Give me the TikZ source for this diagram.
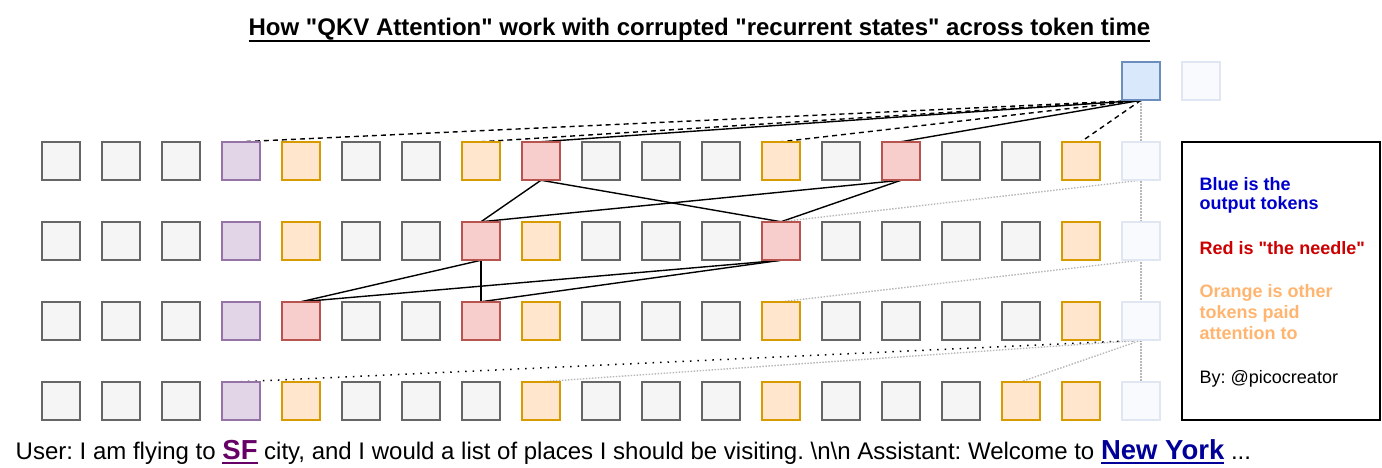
\documentclass[tikz,border=0pt]{standalone}
\usepackage{fontspec}
\setmainfont{Liberation Sans}[Ligatures=TeXOff]
\frenchspacing
\pgfdeclarelayer{bg}
\pgfsetlayers{bg,main}
\definecolor{gfill}{HTML}{F5F5F5}\definecolor{gline}{HTML}{666666}
\definecolor{pfill}{HTML}{E1D5E7}\definecolor{pline}{HTML}{9673A6}
\definecolor{ofill}{HTML}{FFE6CC}\definecolor{oline}{HTML}{D79B00}
\definecolor{rfill}{HTML}{F8CECC}\definecolor{rline}{HTML}{B85450}
\definecolor{bfill}{HTML}{DAE8FC}\definecolor{bline}{HTML}{6C8EBF}
\definecolor{ffill}{HTML}{F8FAFE}\definecolor{fline}{HTML}{E0E7F2}
\definecolor{legblue}{HTML}{0000CC}\definecolor{legred}{HTML}{CC0000}
\definecolor{legorange}{HTML}{FFB570}
\definecolor{sfpurple}{HTML}{660066}\definecolor{nyblue}{HTML}{000099}
\definecolor{dotgray}{HTML}{B8B8B8}
\newsavebox{\ulsave}
\newcommand{\thickul}[3]{\sbox{\ulsave}{#3}\rlap{\rule[-#1]{\wd\ulsave}{#2}}\usebox{\ulsave}}
\tikzset{
  tok/.style={draw, line width=1.8pt, minimum width=38.5pt, minimum height=38.5pt, inner sep=0pt, outer sep=0pt},
  tokg/.style={tok, fill=gfill, draw=gline},
  tokp/.style={tok, fill=pfill, draw=pline},
  toko/.style={tok, fill=ofill, draw=oline},
  tokr/.style={tok, fill=rfill, draw=rline},
  tokb/.style={tok, fill=bfill, draw=bline},
  tokf/.style={tok, fill=ffill, draw=fline},
  solidline/.style={black, line width=1.4pt},
  dashline/.style={black, line width=1.4pt, dash pattern=on 5pt off 4pt},
  bdotline/.style={black, line width=1.5pt, dash pattern=on 1.5pt off 6pt},
  gdotline/.style={dotgray, line width=1.4pt, dash pattern=on 1.5pt off 1.5pt},
  legtext/.style={anchor=base west, inner sep=0pt, font=\fontsize{18}{21}\selectfont},
}
\begin{document}
\begin{tikzpicture}[x=1pt, y=-1pt]
\useasboundingbox (0,0) rectangle (1382,468);
% token rows
\foreach \r/\lst in {
  1/{g,g,g,p,o,g,g,o,r,g,g,g,o,g,r,g,g,o,f},
  2/{g,g,g,p,o,g,g,r,o,g,g,g,r,g,g,g,g,o,f},
  3/{g,g,g,p,r,g,g,r,o,g,g,g,o,g,g,g,g,o,f},
  4/{g,g,g,p,o,g,g,g,o,g,g,g,o,g,g,g,o,o,f}} {
  \foreach \c [count=\i from 0] in \lst {
    \node[tok\c] (t\r-\i) at (61+60*\i, 81+80*\r) {};
  }
}
\node[tokb] (top) at (1141,81) {};
\node[tokf] (topf) at (1201,81) {};
% connectors
\begin{pgfonlayer}{bg}
\draw[gdotline] (top.south) -- (t4-18.north);
\draw[dashline] (top.south) -- (t1-3.north);
\draw[dashline] (top.south) -- (t1-7.north);
\draw[solidline] (top.south) -- (t1-8.north);
\draw[dashline] (top.south) -- (t1-12.north);
\draw[solidline] (top.south) -- (t1-14.north);
\draw[dashline] (top.south) -- (t1-17.north);
\draw[solidline] (t1-8.south) -- (t2-7.north);
\draw[solidline] (t1-8.south) -- (t2-12.north);
\draw[solidline] (t1-14.south) -- (t2-7.north);
\draw[solidline] (t1-14.south) -- (t2-12.north);
\draw[solidline] (t2-7.south) -- (t3-4.north);
\draw[solidline] (t2-7.south) -- (t3-7.north);
\draw[solidline] (t2-12.south) -- (t3-4.north);
\draw[solidline] (t2-12.south) -- (t3-7.north);
\draw[gdotline] (t1-18.south) -- (t2-12.north);
\draw[gdotline] (t2-18.south) -- (t3-12.north);
\draw[bdotline] (t3-18.south) -- (t4-3.north);
\draw[gdotline] (t3-18.south) -- (t4-8.north);
\draw[gdotline] (t3-18.south) -- (t4-16.north);
\end{pgfonlayer}
% title
\node[anchor=base, inner sep=0pt] (title) at (699.5,36)
  {\fontsize{24}{28}\selectfont\bfseries\thickul{5.7pt}{2pt}{How "QKV Attention" work with corrupted "recurrent states" across token time}};
% legend
\node[draw, line width=2pt, minimum width=198pt, minimum height=278pt, inner sep=0pt] (legend) at (1281,281) {};
\node[legtext, text=legblue, font=\fontsize{18}{21}\selectfont\bfseries] (lb1) at (1199.5,190) {Blue is the};
\node[legtext, text=legblue, font=\fontsize{18}{21}\selectfont\bfseries] (lb2) at (1199.5,209.5) {output tokens};
\node[legtext, text=legred, font=\fontsize{18}{21}\selectfont\bfseries] (lr1) at (1199.5,254) {Red is "the needle"};
\node[legtext, text=legorange, font=\fontsize{18}{21}\selectfont\bfseries] (lo1) at (1199.5,297.5) {Orange is other};
\node[legtext, text=legorange, font=\fontsize{18}{21}\selectfont\bfseries] (lo2) at (1199.5,318.5) {tokens paid};
\node[legtext, text=legorange, font=\fontsize{18}{21}\selectfont\bfseries] (lo3) at (1199.5,339.5) {attention to};
\node[legtext] (lby) at (1199.5,383.5) {By: @picocreator};
% caption
\node[anchor=base west, inner sep=0pt] (caption) at (15.5,459)
  {\fontsize{24}{28}\selectfont User: I am flying to {\color{sfpurple}\fontsize{27.5}{30}\selectfont\bfseries\thickul{5pt}{2.2pt}{SF}} city, and I would a list of places I should be visiting. \textbackslash n\textbackslash n Assistant: Welcome to {\color{nyblue}\fontsize{27.5}{30}\selectfont\bfseries\thickul{5pt}{2.2pt}{New York}} ...};
\end{tikzpicture}
\end{document}
